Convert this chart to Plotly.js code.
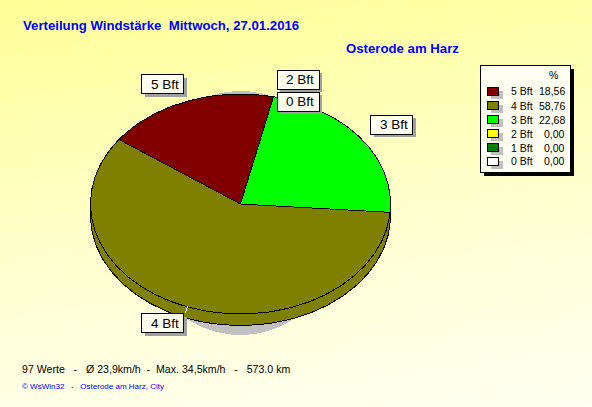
<!DOCTYPE html>
<html><head><meta charset="utf-8">
<script src="https://cdn.plot.ly/plotly-3.0.1.min.js"></script>
<style>html,body{margin:0;padding:0;background:linear-gradient(172deg,#ffff98 0%,#ffffb0 25%,#ffffd0 55%,#fffff2 100%);width:592px;height:407px;overflow:hidden}#c{width:592px;height:407px}#c path{shape-rendering:crispEdges}</style>
</head><body><div id="c"></div>
<script>
const categories = ["5 Bft","4 Bft","3 Bft","2 Bft","1 Bft","0 Bft"];
const percents = [18.56,58.76,22.68,0,0,0];
const colors = ["#800000","#808000","#00ff00","#ffff00","#008000","#ffffff"];
const titleText = "Verteilung Windstärke\u00a0\u00a0Mittwoch, 27.01.2016";
const placeText = "Osterode am Harz";
const footerText = "97 Werte\u00a0\u00a0\u00a0-\u00a0\u00a0\u00a0Ø 23,9km/h\u00a0\u00a0-\u00a0\u00a0Max. 34,5km/h\u00a0\u00a0\u00a0-\u00a0\u00a0\u00a0573.0 km";
const creditText = "© WsWin32\u00a0\u00a0\u00a0-\u00a0\u00a0\u00a0Osterode am Harz, City";

const W=592,H=407, CX=240.5, CY=204, RX=150, RY=110, DEPTH=11.5, START=12.7;
const px=x=>x/W, py=y=>1-y/H;
const FONT="Liberation Sans, Arial, sans-serif";

// unit-circle data space mapped on to the elliptical pie
const xrange=[-CX/RX,(W-CX)/RX], yrange=[-(H-CY)/RY,CY/RY];
function ellipse(dy,sx,sy){const a=[],b=[];for(let i=0;i<=240;i++){const t=i/240*2*Math.PI;a.push(sx*Math.cos(t));b.push(sy*Math.sin(t)+dy);}return [a,b];}
function slice(from,to){const xs=[0],ys=[0];const n=Math.max(2,Math.ceil(Math.abs(to-from)));
 for(let i=0;i<=n;i++){const d=(from+(to-from)*i/n)*Math.PI/180;xs.push(Math.sin(d));ys.push(Math.cos(d));}
 xs.push(0);ys.push(0);return [xs,ys];}

const traces=[];
const shadow=ellipse(-9/RY,108/RX,122/RY);
traces.push({x:shadow[0],y:shadow[1],mode:'lines',fill:'toself',fillcolor:'#c0c0c0',line:{width:0,color:'#c0c0c0'},hoverinfo:'skip'});
const side=ellipse(-DEPTH/RY,1,1);
traces.push({x:side[0],y:side[1],mode:'lines',fill:'toself',fillcolor:colors[1],line:{width:1,color:'#000'},hoverinfo:'skip'});
let ang=START;
percents.forEach((p,i)=>{ if(p<=0) return;
 const next=ang-p*3.6; const s=slice(ang,next);
 traces.push({x:s[0],y:s[1],mode:'lines',fill:'toself',fillcolor:colors[i],line:{width:1,color:'#000'},name:categories[i],hoverinfo:'name'});
 ang=next;});

const shapes=[],ann=[];
function rect(x0,y0,x1,y1,fill,line){shapes.push({type:'rect',xref:'paper',yref:'paper',x0:px(x0),x1:px(x1),y0:py(y1),y1:py(y0),fillcolor:fill,line:line?{color:line,width:1}:{width:0}});}
function text(t,x,y,size,color,anchor,bold){ann.push({text:bold?'<b>'+t+'</b>':t,xref:'paper',yref:'paper',x:px(x),y:py(y),xanchor:anchor||'left',yanchor:'middle',showarrow:false,font:{family:FONT,size:size,color:color},borderpad:0});}
function seg(x0,y0,x1,y1){shapes.push({type:'line',xref:'paper',yref:'paper',x0:px(x0),x1:px(x1),y0:py(y0),y1:py(y1),line:{color:'#ffffff',width:1}});}

seg(188,306,185,313); seg(364,137.5,371,133);
const boxes={ "5 Bft":[141.5,74.5],"2 Bft":[277,70],"0 Bft":[277,92],"3 Bft":[370.5,115],"4 Bft":[141.5,313.5] };
["5 Bft","2 Bft","3 Bft","4 Bft","0 Bft"].forEach(k=>{const [x,y]=boxes[k];
 rect(x+3,y+3,x+45,y+22,'#a0a0a0');
 rect(x,y,x+42,y+19,'#fffff0','#000');
 text(k,x+23,y+10,13.5,'#000','center');});

// legend
rect(484,69,574,176,'#000');
rect(480.5,65.5,570.5,172.5,'#fffff2','#000');
text('%',553,75,10.5,'#000','center');
categories.forEach((c,i)=>{const y=91.5+14*i;
 rect(491,y-1,503,y+7,'#c0c0c0');
 rect(487.5,y-4,498.5,y+3.5,colors[i],'#000');
 text(c,510,y,10.5,'#000');
 text(percents[i].toFixed(2).replace('.',','),566,y,10.5,'#000','right');});

text(titleText,22,26,13.2,'#0000ff','left',true);
text(placeText,345,49,13.2,'#0000ff','left',true);
text(footerText,21,369,10.6,'#000');
text(creditText,21,386,8,'#0000ff');

Plotly.newPlot('c',traces,{
 width:W,height:H,margin:{l:0,r:0,t:0,b:0},showlegend:false,
 paper_bgcolor:'rgba(0,0,0,0)',plot_bgcolor:'rgba(0,0,0,0)',
 xaxis:{range:xrange,visible:false,fixedrange:true},
 yaxis:{range:yrange,visible:false,fixedrange:true},
 shapes:shapes,annotations:ann
},{displayModeBar:false,staticPlot:true});
</script></body></html>
